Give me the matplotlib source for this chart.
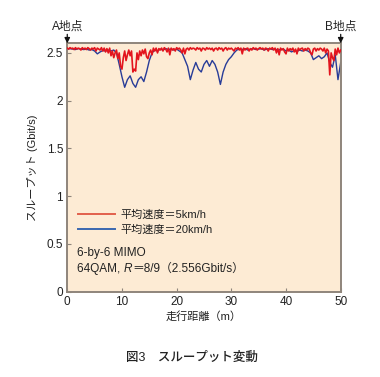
import matplotlib
matplotlib.use("Agg")
import matplotlib.pyplot as plt
from matplotlib.lines import Line2D
import numpy as np

plt.rcParams['font.family'] = ['Liberation Sans', 'Noto Sans CJK JP', 'DejaVu Sans']

# ---- data ----
red_x_step = 0.25
red_5kmh = [
    2.55, 2.54, 2.555, 2.545,
    2.55, 2.535, 2.555, 2.54,
    2.55, 2.545, 2.53, 2.555,
    2.54, 2.55, 2.535, 2.555,
    2.545, 2.53, 2.55, 2.54,
    2.555, 2.52, 2.55, 2.54,
    2.53, 2.555, 2.52, 2.55,
    2.51, 2.545, 2.50, 2.55,
    2.47, 2.52, 2.45, 2.50,
    2.53, 2.44, 2.50, 2.36,
    2.33, 2.45, 2.52, 2.42,
    2.48, 2.53, 2.47, 2.52,
    2.30, 2.33, 2.31, 2.50,
    2.43, 2.52, 2.47, 2.53,
    2.49, 2.54, 2.46, 2.44,
    2.50, 2.53, 2.48, 2.55,
    2.52, 2.55, 2.50, 2.545,
    2.53, 2.55, 2.52, 2.555,
    2.54, 2.51, 2.55, 2.48,
    2.55, 2.53, 2.545, 2.52,
    2.555, 2.54, 2.55, 2.53,
    2.50, 2.55, 2.49, 2.54,
    2.55, 2.53, 2.555, 2.54,
    2.55, 2.545, 2.53, 2.555,
    2.54, 2.55, 2.52, 2.55,
    2.545, 2.53, 2.555, 2.54,
    2.55, 2.535, 2.55, 2.52,
    2.545, 2.55, 2.53, 2.555,
    2.54, 2.55, 2.52, 2.545,
    2.555, 2.53, 2.55, 2.54,
    2.55, 2.535, 2.52, 2.55,
    2.54, 2.555, 2.53, 2.55,
    2.49, 2.55, 2.53, 2.545,
    2.55, 2.52, 2.545, 2.53,
    2.555, 2.54, 2.55, 2.53,
    2.545, 2.555, 2.54, 2.55,
    2.53, 2.55, 2.545, 2.52,
    2.55, 2.54, 2.555, 2.53,
    2.55, 2.50, 2.545, 2.48,
    2.55, 2.53, 2.545, 2.51,
    2.49, 2.55, 2.52, 2.545,
    2.53, 2.55, 2.51, 2.54,
    2.49, 2.55, 2.53, 2.545,
    2.55, 2.52, 2.545, 2.53,
    2.55, 2.54, 2.50, 2.48,
    2.54, 2.55, 2.52, 2.545,
    2.53, 2.55, 2.54, 2.52,
    2.55, 2.50, 2.54, 2.52,
    2.27, 2.50, 2.45, 2.42,
    2.54, 2.48, 2.55, 2.50,
    2.53,
]

blue_x_step = 0.5
blue_20kmh = [
    2.54, 2.545, 2.54, 2.535, 2.545, 2.54, 2.535, 2.54, 2.53, 2.535,   # 0-4.5
    2.52, 2.49, 2.51, 2.525, 2.52, 2.53, 2.52, 2.53, 2.50, 2.38,       # 5-9.5
    2.25, 2.14, 2.22, 2.26, 2.18, 2.14, 2.22, 2.25, 2.20, 2.30,        # 10-14.5
    2.42, 2.50, 2.53, 2.52, 2.54, 2.53, 2.545, 2.535, 2.54, 2.53,      # 15-19.5
    2.54, 2.52, 2.50, 2.43, 2.36, 2.22, 2.32, 2.40, 2.33, 2.30,        # 20-24.5
    2.38, 2.42, 2.36, 2.42, 2.38, 2.30, 2.17, 2.30, 2.38, 2.43,        # 25-29.5
    2.46, 2.50, 2.53, 2.54, 2.535, 2.545, 2.53, 2.54, 2.545, 2.535,    # 30-34.5
    2.54, 2.545, 2.53, 2.54, 2.545, 2.535, 2.54, 2.53, 2.535, 2.54,    # 35-39.5
    2.52, 2.53, 2.51, 2.525, 2.515, 2.53, 2.52, 2.53, 2.52, 2.50,      # 40-44.5
    2.43, 2.45, 2.47, 2.44, 2.46, 2.50, 2.40, 2.35, 2.48, 2.22,        # 45-49.5
    2.40,                                                              # 50
]

x_red = np.arange(len(red_5kmh)) * red_x_step
x_blue = np.arange(len(blue_20kmh)) * blue_x_step

yticks = [0, 0.5, 1, 1.5, 2, 2.5]
ytick_labels = ['0', '0.5', '1', '1.5', '2', '2.5']
xticks = [0, 10, 20, 30, 40, 50]
labels = ['平均速度＝5km/h', '平均速度＝20km/h']

# ---- style ----
frame_col = '#8f857b'
bg_col = '#fdebd4'
red_col = '#e3141d'
blue_col = '#283c98'
txt_col = '#222222'

fig = plt.figure(figsize=(3.80, 3.77), dpi=100)
ax = fig.add_axes([0.177, 0.2263, 0.7196, 0.6587])
ax.set_facecolor(bg_col)

ax.plot(x_red, red_5kmh, color=red_col, lw=1.2, zorder=3)
ax.plot(x_blue, blue_20kmh, color=blue_col, lw=1.0, zorder=2)

ax.set_xlim(0, 50)
ax.set_ylim(0, 2.6)
ax.set_xticks(xticks)
ax.set_xticklabels([str(t) for t in xticks])
ax.set_yticks(yticks)
ax.set_yticklabels(ytick_labels)

for s in ax.spines.values():
    s.set_color(frame_col)
    s.set_linewidth(1.4)
ax.tick_params(direction='in', length=3, width=0.8, color=frame_col,
               labelsize=8.5, labelcolor=txt_col, pad=3)

ax.set_xlabel('走行距離（m）', fontsize=8, color=txt_col, labelpad=2)
ax.set_ylabel('スループット (Gbit/s)', fontsize=8, color=txt_col, labelpad=6)

# legend
handles = [Line2D([], [], color='#e2604c', lw=1.4),
           Line2D([], [], color='#3b68b0', lw=1.4)]
ax.legend(handles, labels, loc='center left', bbox_to_anchor=(0.039, 0.279),
          frameon=False, fontsize=8, handlelength=3.3, handletextpad=0.55,
          labelspacing=0.45, borderpad=0, borderaxespad=0, labelcolor=txt_col)

# annotation
ax.text(0.037, 0.156, '6-by-6 MIMO', transform=ax.transAxes, fontsize=8.5,
        va='center', ha='left', color=txt_col)
t1 = ax.text(0.037, 0.092, '64QAM, ', transform=ax.transAxes, fontsize=8.5,
             va='center', ha='left', color=txt_col)
t2 = ax.annotate('R', xy=(1, 0), xycoords=t1, va='bottom', ha='left',
                 fontsize=8.5, style='italic', color=txt_col)
ax.annotate('＝8/9（2.556Gbit/s）', xy=(1, 0), xycoords=t2, va='bottom', ha='left',
            fontsize=8.5, color=txt_col)

# A / B markers
ppu = 95.4  # pixels per y-unit
for xv, lab in [(0, 'A地点'), (50, 'B地点')]:
    ax.annotate('', xy=(xv, 2.6), xycoords='data',
                xytext=(xv, 2.6 + 9 / ppu), textcoords='data',
                arrowprops=dict(arrowstyle='-|>', color='#111111', lw=0.9,
                                mutation_scale=8, shrinkA=0, shrinkB=0),
                annotation_clip=False)
    ax.text(xv, 2.6 + 17 / ppu, lab, fontsize=8.5, ha='center', va='center',
            color=txt_col, clip_on=False)

fig.text(0.505, 0.05, '図3　スループット変動', fontsize=9, ha='center', va='center',
         color=txt_col, fontweight='medium')

fig.savefig('out.png', dpi=100)
